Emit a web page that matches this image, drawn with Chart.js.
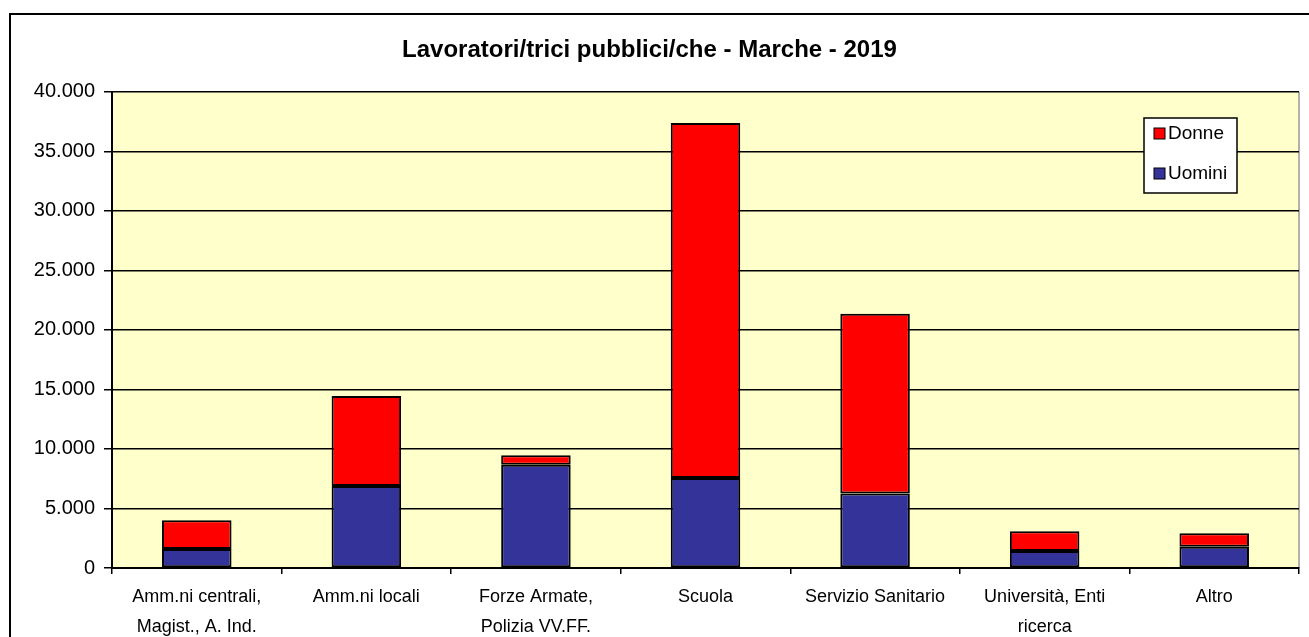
<!DOCTYPE html>
<html>
<head>
<meta charset="utf-8">
<script src="https://cdn.jsdelivr.net/npm/chart.js@4.4.1/dist/chart.umd.min.js"></script>
<style>
  html, body { margin: 0; padding: 0; background: #fff; }
  #wrap { width: 1309px; height: 637px; position: relative; }
</style>
</head>
<body>
<div id="wrap"><canvas id="bar_chart"></canvas></div>
<script>
const categories = [
    ["Amm.ni centrali,", "Magist., A. Ind."],
    "Amm.ni locali",
    ["Forze Armate,", "Polizia VV.FF."],
    "Scuola",
    "Servizio Sanitario",
    ["Università, Enti", "ricerca"],
    "Altro"
];
const uomini = [1600, 6880, 8670, 7550, 6260, 1430, 1790];
const donne = [2420, 7570, 810, 29830, 15100, 1650, 1120];
const yTicks = [0, 5000, 10000, 15000, 20000, 25000, 30000, 35000, 40000];

// sfondo giallo dell'area del grafico e cornice esterna
const chartBackground = {
    id: 'chartBackground',
    beforeDraw(chart) {
        const ctx = chart.ctx;
        const a = chart.chartArea;
        ctx.save();
        ctx.fillStyle = '#FFFFCC';
        ctx.fillRect(a.left, a.top, a.right - a.left, a.bottom - a.top);
        ctx.strokeStyle = '#000';
        ctx.lineWidth = 2;
        ctx.strokeRect(10, 14, chart.width + 20, chart.height + 20);
        ctx.strokeStyle = '#999';
        ctx.lineWidth = 1.5;
        ctx.beginPath();
        ctx.moveTo(a.right, a.top);
        ctx.lineTo(a.right, a.bottom);
        ctx.stroke();
        ctx.restore();
    }
};

Chart.defaults.font.family = '"Liberation Sans", Arial, sans-serif';
Chart.defaults.color = '#000';

new Chart(document.getElementById("bar_chart").getContext("2d"), {
    type: 'bar',
    data: {
        labels: categories,
        datasets: [{
            label: 'Uomini',
            data: uomini,
            backgroundColor: '#333399',
            borderColor: '#000',
            borderWidth: 2,
            borderSkipped: false
        }, {
            label: 'Donne',
            data: donne,
            backgroundColor: '#FF0000',
            borderColor: '#000',
            borderWidth: 2,
            borderSkipped: false
        }]
    },
    options: {
        responsive: true,
        maintainAspectRatio: false,
        animation: false,
        layout: { padding: { top: 0, right: 10, left: 0, bottom: 0 } },
        datasets: { bar: { categoryPercentage: 1, barPercentage: 0.41 } },
        plugins: {
            title: {
                display: true,
                text: 'Lavoratori/trici pubblici/che - Marche - 2019',
                font: { size: 24, weight: 'bold' },
                color: '#000',
                padding: { top: 36, bottom: 27 }
            },
            legend: {
                display: false
            },
            tooltip: { enabled: false }
        },
        scales: {
            x: {
                stacked: true,
                grid: { drawOnChartArea: false, color: '#000', lineWidth: 1.5, tickLength: 6, offset: true },
                border: { color: '#000', width: 2 },
                ticks: { font: { size: 18, lineHeight: 1.65 }, color: '#000', maxRotation: 0, autoSkip: false, padding: 8 },
                afterFit(scale) { scale.height = 69; }
            },
            y: {
                stacked: true,
                min: 0,
                max: 40000,
                afterBuildTicks(scale) { scale.ticks = yTicks.map(v => ({ value: v })); },
                grid: { color: '#000', lineWidth: 1.5, tickLength: 8 },
                border: { color: '#000', width: 2 },
                ticks: {
                    font: { size: 20 },
                    color: '#000',
                    padding: 9,
                    callback: v => v.toLocaleString('it-IT')
                },
                afterFit(scale) { scale.width = 112; }
            }
        }
    },
    plugins: [chartBackground, {
        // legenda disegnata in riquadro come nel riferimento
        id: 'boxLegend',
        afterDraw(chart) {
            const ctx = chart.ctx;
            const x = 1144, y = 118, w = 93, h = 75;
            ctx.save();
            ctx.fillStyle = '#fff';
            ctx.fillRect(x, y, w, h);
            ctx.strokeStyle = '#000';
            ctx.lineWidth = 1.5;
            ctx.strokeRect(x, y, w, h);
            const items = [chart.data.datasets[1], chart.data.datasets[0]];
            ctx.font = '19px "Liberation Sans", Arial, sans-serif';
            ctx.textBaseline = 'middle';
            items.forEach((ds, i) => {
                const cy = y + 15 + i * 40;
                ctx.fillStyle = ds.backgroundColor;
                ctx.fillRect(x + 10, cy - 5, 11, 11);
                ctx.strokeStyle = '#000';
                ctx.lineWidth = 1;
                ctx.strokeRect(x + 10, cy - 5, 11, 11);
                ctx.fillStyle = '#000';
                ctx.fillText(ds.label, x + 24, cy + 1);
            });
            ctx.restore();
        }
    }]
});
</script>
</body>
</html>
